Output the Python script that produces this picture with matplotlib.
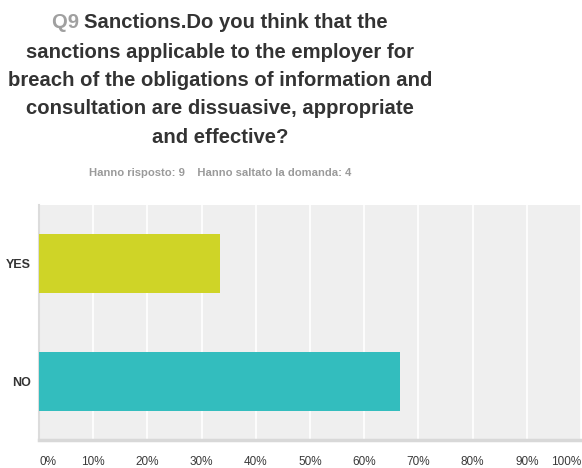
import matplotlib
matplotlib.use("Agg")
import matplotlib.pyplot as plt
from matplotlib.ticker import FixedLocator
from matplotlib.transforms import blended_transform_factory

plt.rcParams['font.family'] = ['Liberation Sans', 'DejaVu Sans']

# Survey answers (share of respondents, %)
categories = ["YES", "NO"]
values = [33.33, 66.67]
bar_colors = ["#cfd427", "#33bdbe"]
tick_values = [0, 10, 20, 30, 40, 50, 60, 70, 80, 90, 100]
tick_labels = ["0%", "10%", "20%", "30%", "40%", "50%", "60%", "70%", "80%", "90%", "100%"]

q_label = "Q9"
title_lines = [
    "Sanctions.Do you think that the",
    "sanctions applicable to the employer for",
    "breach of the obligations of information and",
    "consultation are dissuasive, appropriate",
    "and effective?",
]
subtitle = "Hanno risposto: 9    Hanno saltato la domanda: 4"

W, H = 582, 468
fig = plt.figure(figsize=(W / 100, H / 100), dpi=100)
ax = fig.add_axes([39 / W, 28 / H, 542 / W, 235 / H])
ax.set_facecolor("#efefef")

ypos = list(range(len(categories)))
ax.barh(ypos, values, height=0.5, color=bar_colors, edgecolor="none", zorder=3)
ax.set_xlim(0, 100)
ax.set_ylim(len(categories) - 0.5, -0.5)
ax.set_yticks(ypos)
ax.set_yticklabels(categories, fontsize=9, fontweight="bold", color="#333333")

ax.xaxis.set_major_locator(FixedLocator(tick_values))
ax.set_xticklabels([])
ax.grid(axis="x", color="white", linewidth=1.2, zorder=1)
ax.tick_params(axis="both", length=0)
ax.tick_params(axis="y", pad=6)
for side in ["top", "right"]:
    ax.spines[side].set_visible(False)
ax.spines["left"].set_color("#dcdcdc")
ax.spines["left"].set_linewidth(1.5)
ax.spines["bottom"].set_color("#d8d8d8")
ax.spines["bottom"].set_linewidth(2.5)

# x tick labels below the axes; the end labels are kept inside the figure
label_tf = blended_transform_factory(ax.transData, fig.transFigure)
for v, lab in zip(tick_values, tick_labels):
    ha = "center"
    if v == tick_values[0]:
        ha = "left"
    elif v == tick_values[-1]:
        ha = "right"
    ax.text(v, (H - 462) / H, lab, transform=label_tf, ha=ha, va="center",
            fontsize=8.5, color="#3a3a3a", clip_on=False)

# Title: first line starts with the grey question number
title_size = 14.6
center_x = 220 / W
line_y = [23, 52, 80, 108, 137]
renderer = fig.canvas.get_renderer()
for i, line in enumerate(title_lines):
    y = 1 - line_y[i] / H
    if i == 0:
        tq = fig.text(0, y, q_label + " ", fontsize=title_size, fontweight="bold",
                      color="#a0a0a0", ha="left", va="center")
        tr = fig.text(0, y, line, fontsize=title_size, fontweight="bold",
                      color="#333333", ha="left", va="center")
        wq = tq.get_window_extent(renderer).width
        wr = tr.get_window_extent(renderer).width
        x0 = center_x * W - (wq + wr) / 2
        tq.set_x(x0 / W)
        tr.set_x((x0 + wq) / W)
    else:
        fig.text(center_x, y, line, fontsize=title_size, fontweight="bold",
                 color="#333333", ha="center", va="center")

fig.text(center_x, 1 - 173 / H, subtitle, fontsize=8.1, fontweight="bold",
         color="#9a9a9a", ha="center", va="center")

fig.savefig("out.png", dpi=100)
